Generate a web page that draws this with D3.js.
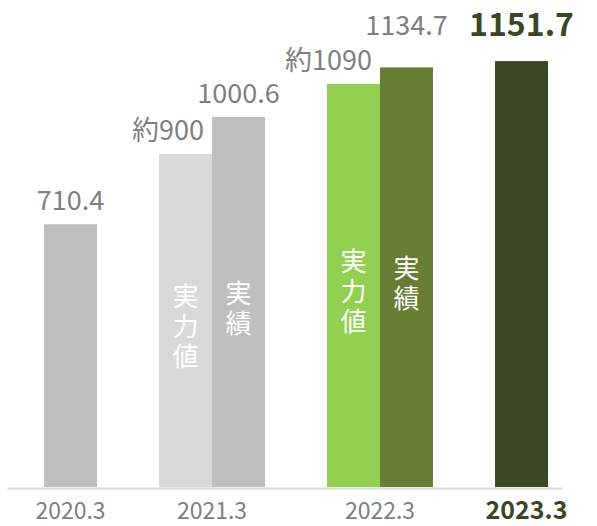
<!DOCTYPE html>
<html><head><meta charset="utf-8">
<script src="https://cdn.jsdelivr.net/npm/d3@7"></script>
<style>body{margin:0;background:#fff}svg{display:block}</style>
</head><body>
<svg id="c" width="597" height="526"></svg>
<script>
// data
const categories = ["2020.3", "2021.3", "2022.3", "2023.3"];
const seriesKeys = ["実力値", "実績"];
const capability = [null, 900, 1090, null];        // 実力値
const actual = [710.4, 1000.6, 1134.7, 1151.7];      // 実績
const capabilityLabels = [null, "約900", "約1090", null];
const actualLabels = ["710.4", "1000.6", "1134.7", "1151.7"];

const FONT = "'Noto Sans CJK JP','Noto Sans',sans-serif";
const colors = {
  "2020.3": {"実績": "#bfbfbf"},
  "2021.3": {"実力値": "#d9d9d9", "実績": "#bfbfbf"},
  "2022.3": {"実力値": "#92d050", "実績": "#677e34"},
  "2023.3": {"実績": "#3a4720"}
};
const GREY = "#7f7f7f", DARK = "#3a4720";
const last = categories[categories.length - 1];

const svg = d3.select("#c");
const baseY = 487;

// horizontal layout: each bar is one unit, groups separated by a gap
const gapUnits = 1.17;
const counts = categories.map((c, i) => capability[i] != null ? 2 : 1);
const starts = [];
let acc = 0;
counts.forEach((n, i) => { starts.push(acc); acc += n + (i < counts.length - 1 ? gapUnits : 0); });
const x = d3.scaleLinear().domain([0, acc]).range([44, 44 + acc * 53]);
const barW = x(1) - x(0);

const y = d3.scaleLinear().domain([0, 1200]).range([baseY, baseY - 1200 * 0.3698]);

// bar records
const bars = [];
categories.forEach((c, i) => {
  if (capability[i] != null) {
    bars.push({cat: c, key: "実力値", v: capability[i], label: capabilityLabels[i], x0: x(starts[i]), i});
    bars.push({cat: c, key: "実績", v: actual[i], label: actualLabels[i], x0: x(starts[i] + 1), i, paired: true});
  } else {
    bars.push({cat: c, key: "実績", v: actual[i], label: actualLabels[i], x0: x(starts[i]), i, single: true});
  }
});

svg.selectAll("rect.bar").data(bars).join("rect")
  .attr("class", "bar")
  .attr("x", d => d.x0).attr("width", barW)
  .attr("y", d => y(d.v)).attr("height", d => y(0) - y(d.v))
  .attr("fill", d => colors[d.cat][d.key]);

// axis baseline
const xAxis = d3.axisBottom(d3.scaleLinear().range([7, 562])).ticks(0).tickSize(0).tickSizeOuter(0);
const ax = svg.append("g").attr("transform", `translate(0,${baseY + 1})`).call(xAxis);
ax.select(".domain").attr("stroke", "#d9d9d9").attr("stroke-width", 2);

// value labels
function labelY(d) {
  if (d.key === "実力値") return y(d.v) - 14;
  if (d.paired) {
    const capBase = y(capability[d.i]) - 14;
    return Math.min(y(d.v) - 14, capBase - 35);
  }
  return y(d.v) - (d.cat === last ? 25 : 14);
}
svg.selectAll("text.val").data(bars).join("text")
  .attr("class", "val")
  .attr("x", d => d.key === "実力値" ? d.x0 + barW - 8 : d.x0 + barW / 2)
  .attr("y", labelY)
  .attr("text-anchor", d => d.key === "実力値" ? "end" : "middle")
  .attr("font-family", FONT)
  .attr("font-size", d => d.cat === last ? 32 : 27)
  .attr("font-weight", d => d.cat === last ? "bold" : "normal")
  .attr("fill", d => d.cat === last ? DARK : GREY)
  .text(d => d.label);

// vertical labels inside paired bars
svg.selectAll("text.inl").data(bars.filter(d => !d.single)).join("text")
  .attr("class", "inl")
  .attr("x", d => d.x0 + barW / 2)
  .attr("y", d => (y(d.v) + y(0)) / 2 + 8)
  .attr("text-anchor", "middle")
  .style("writing-mode", "vertical-rl")
  .attr("letter-spacing", 4)
  .attr("font-family", FONT)
  .attr("font-size", 26)
  .attr("fill", "#ffffff")
  .text(d => d.key);

// category labels
svg.selectAll("text.cat").data(categories).join("text")
  .attr("class", "cat")
  .attr("x", (d, i) => x(starts[i] + counts[i] / 2) + (d === last ? 5 : 0))
  .attr("y", 519)
  .attr("text-anchor", "middle")
  .attr("font-family", FONT)
  .attr("font-size", d => d === last ? 25 : 23)
  .attr("font-weight", d => d === last ? "bold" : "normal")
  .attr("fill", d => d === last ? DARK : GREY)
  .text(d => d);
</script>
</body></html>
